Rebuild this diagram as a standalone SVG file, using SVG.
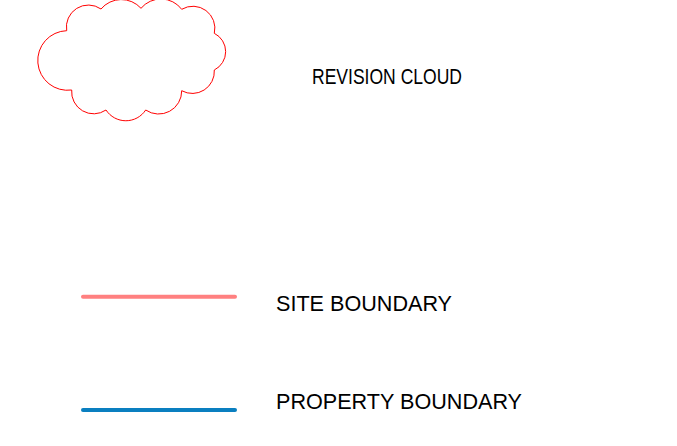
<svg xmlns="http://www.w3.org/2000/svg" width="677" height="446" viewBox="0 0 677 446">
<style>
.lbl{font-family:"Liberation Sans",Arial,sans-serif;font-size:21.6px;fill:#000}
.cloud{fill:none;stroke:#ff0000;stroke-width:1}
.ln{fill:none;stroke-width:4;stroke-linecap:round}
</style>
<rect width="677" height="446" fill="#fff"/>
<g id="revision-cloud">
<path class="cloud" d="M66.7,30.7 A22,22 0 0 1 101,9 A26.5,26.5 0 0 1 141,8.3 A26,26 0 0 1 181.7,9.3 A22,22 0 0 1 214.3,33.3 A20.5,20.5 0 0 1 214.3,70 A22,22 0 0 1 181.7,90.7 A23,23 0 0 1 145.7,110 A23.7,23.7 0 0 1 106,110 A22,22 0 0 1 71.7,90 A29.8,29.8 0 1 1 66.7,30.7 Z"/>
<text class="lbl" x="312" y="84" font-size="20" textLength="150" lengthAdjust="spacingAndGlyphs">REVISION CLOUD</text>
</g>
<g id="site-boundary">
<line class="ln" x1="83" y1="296.7" x2="235" y2="296.7" stroke="#ff8080"/>
<text class="lbl" x="276" y="311">SITE BOUNDARY</text>
</g>
<g id="property-boundary">
<line class="ln" x1="83" y1="410" x2="235" y2="410" stroke="#0a7fc0"/>
<text class="lbl" x="276" y="409">PROPERTY BOUNDARY</text>
</g>
</svg>
